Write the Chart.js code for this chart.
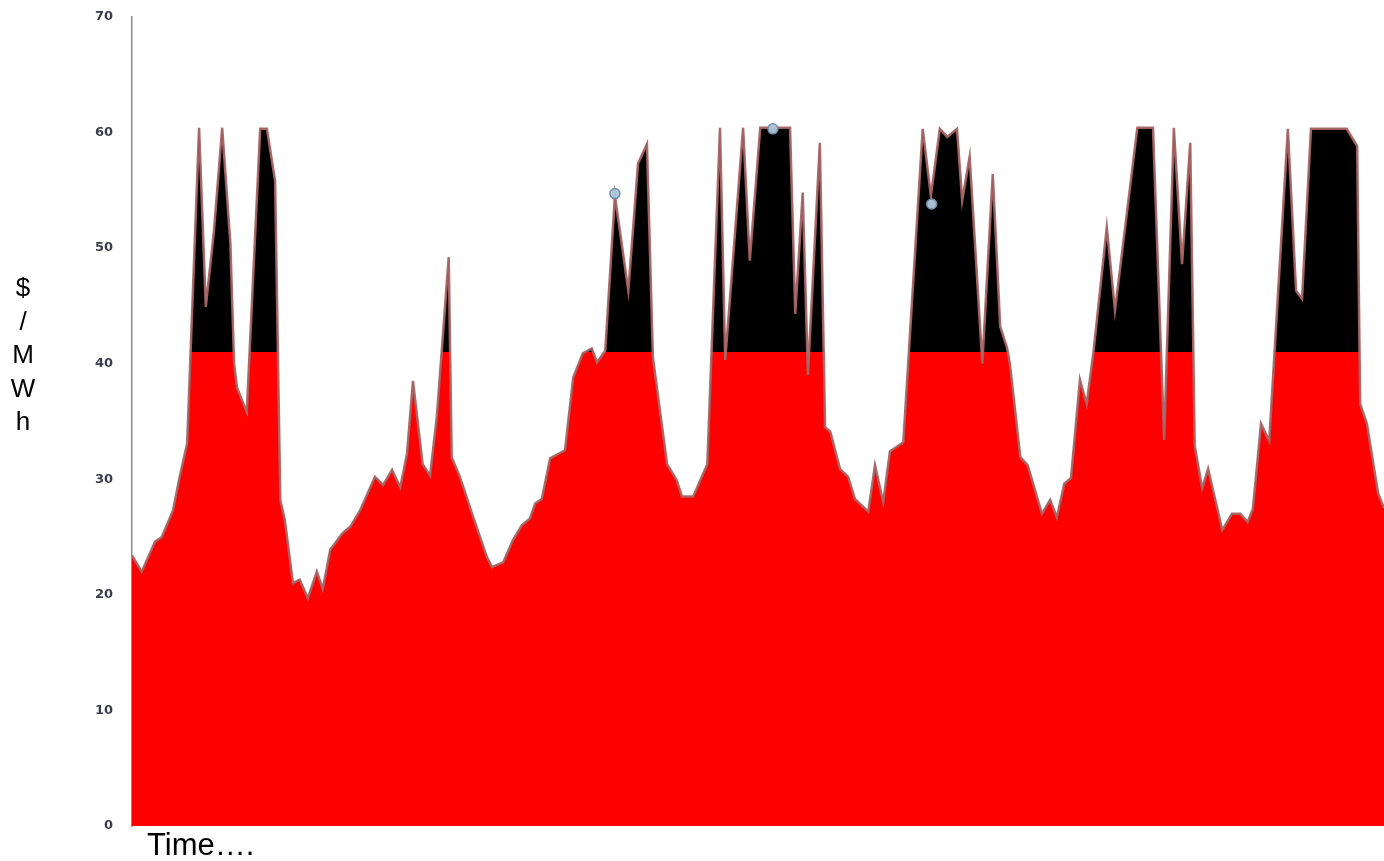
<!DOCTYPE html>
<html>
<head>
<meta charset="utf-8">
<script src="https://cdn.jsdelivr.net/npm/chart.js@4.4.1/dist/chart.umd.min.js"></script>
<style>
  html, body { margin: 0; padding: 0; background: #fff; }
  #wrap { position: relative; width: 1384px; height: 861px; overflow: hidden; }
  #c { position: absolute; left: 0; top: 0; }
  .ytitle { position: absolute; left: 8px; top: 271px; width: 30px; text-align: center;
            font-family: "Liberation Sans", Arial, sans-serif; font-size: 26px; line-height: 33.5px; color: #000; }
  .xtitle { position: absolute; left: 147px; top: 828px;
            font-family: "Liberation Sans", Arial, sans-serif; font-size: 31px; line-height: 34px; color: #000; }
</style>
</head>
<body>
<div id="wrap">
  <canvas id="c" width="1384" height="861"></canvas>
  <div class="ytitle">$<br>/<br>M<br>W<br>h</div>
  <div class="xtitle">Time….</div>
</div>
<script>
// Time in hours over one week
const hours = [
  0, 1.3, 3.1, 4.0, 5.5, 6.4, 7.4, 9.0, 9.9, 11.0, 12.1, 13.2, 13.7, 14.1, 15.4,
  17.2, 18.1, 19.2, 19.9, 20.5, 21.6, 22.5, 23.6, 24.8, 25.6, 26.6, 28.2, 29.3, 30.6,
  32.6, 33.7, 34.9, 36.0, 36.9, 37.7, 39.0, 40.0, 40.9, 42.5, 42.9, 44.0, 45.8, 47.6,
  48.3, 49.8, 51.1, 52.3, 53.4, 54.1, 55.0, 56.1, 58.1, 59.2, 60.5, 61.7, 62.4, 63.5,
  64.8, 66.6, 67.9, 69.1, 69.9, 71.8, 73.1, 73.8, 75.3, 77.2, 78.9, 79.6, 82.0, 82.9,
  84.3, 88.3, 89.0, 90.0, 90.7, 92.3, 93.0, 93.7, 95.0, 96.1, 97.0, 98.8, 99.7, 100.8,
  101.7, 103.5, 106.1, 107.2, 108.4, 109.4, 110.7, 111.4, 112.4, 114.1, 115.5, 116.5,
  117.4, 117.8, 119.2, 120.2, 122.1, 123.2, 124.1, 125.1, 126.0, 127.2, 128.1, 129.0,
  130.8, 131.9, 134.9, 137.0, 138.5, 139.8, 140.9, 142.0, 142.6, 143.6, 144.4, 146.3,
  147.6, 148.7, 149.7, 150.4, 151.5, 152.6, 155.1, 156.2, 157.0, 158.2, 163.0, 164.4,
  164.8, 165.7, 167.2, 168.0
];
// Price, $/MWh
const price = [
  23.4, 22.0, 24.6, 25.0, 27.3, 30.2, 33.1, 60.4, 44.9, 51.5, 60.4, 50.4, 40.0, 37.9, 35.8,
  60.3, 60.3, 55.8, 28.2, 26.5, 21.0, 21.3, 19.7, 22.0, 20.5, 23.9, 25.3, 25.9, 27.3,
  30.2, 29.5, 30.8, 29.3, 32.2, 38.5, 31.3, 30.3, 35.4, 49.2, 31.9, 30.2, 26.7, 23.3,
  22.4, 22.8, 24.7, 26.0, 26.6, 27.9, 28.3, 31.8, 32.5, 38.8, 40.9, 41.3, 40.1, 41.1,
  54.5, 46.3, 57.3, 59.0, 40.5, 31.3, 29.9, 28.5, 28.5, 31.3, 60.4, 40.3, 60.4, 48.9,
  60.4, 60.4, 44.3, 54.8, 39.0, 59.1, 34.5, 34.1, 30.9, 30.2, 28.3, 27.2, 31.2, 28.0,
  32.4, 33.2, 60.3, 54.5, 60.3, 59.6, 60.3, 54.1, 57.9, 40.0, 56.4, 43.2,
  41.4, 40.0, 31.9, 31.2, 27.0, 28.2, 26.7, 29.6, 30.1, 38.6, 36.5, 40.9,
  51.8, 44.6, 60.4, 60.4, 33.4, 60.4, 48.6, 59.1, 32.9, 29.2, 30.9, 25.6,
  27.0, 27.0, 26.3, 27.4, 34.8, 33.3, 60.3, 46.3, 45.6, 60.3, 60.3, 58.8,
  36.5, 34.8, 28.8, 27.5
];
// Highlighted (selected) points
const markHours = [64.8, 86.0, 107.3];
const markPrice = [54.7, 60.3, 53.8];
const threshold = 41;
const yTicks = [0, 10, 20, 30, 40, 50, 60, 70];

const series = hours.map((h, i) => ({ x: h, y: price[i] }));
const marks = markHours.map((h, i) => ({ x: h, y: markPrice[i] }));

new Chart(document.getElementById('c'), {
  type: 'line',
  data: {
    datasets: [
      {
        label: 'marks',
        data: marks,
        showLine: false,
        pointRadius: 5,
        pointBackgroundColor: 'rgba(175,198,218,0.95)',
        pointBorderColor: '#6f8ca8',
        pointBorderWidth: 1.5,
        order: 0
      },
      {
        label: 'price',
        data: series,
        borderColor: 'rgba(165,100,100,0.95)',
        borderWidth: 2.5,
        pointRadius: 0,
        tension: 0,
        fill: { target: { value: threshold }, above: '#000000', below: 'rgba(0,0,0,0)' },
        order: 1
      },
      {
        label: 'base',
        data: series,
        borderWidth: 0,
        borderColor: 'rgba(0,0,0,0)',
        backgroundColor: '#ff0000',
        pointRadius: 0,
        tension: 0,
        fill: 'origin',
        order: 2
      }
    ]
  },
  options: {
    responsive: false,
    animation: false,
    devicePixelRatio: 1,
    layout: { autoPadding: false, padding: { top: 16.73, bottom: 35, left: 0, right: 0 } },
    plugins: { legend: { display: false }, tooltip: { enabled: false } },
    scales: {
      x: { type: 'linear', min: 0, max: 168, display: false },
      y: {
        min: 0, max: 70,
        afterBuildTicks: (s) => { s.ticks = yTicks.map(v => ({ value: v })); },
        afterFit: (s) => { s.width = 132; s.paddingTop = 0; s.paddingBottom = 0; },
        grid: { display: false, drawTicks: false },
        border: { display: true, color: '#8c8c8c', width: 1.5 },
        ticks: {
          padding: 19,
          color: '#3c3c4c',
          font: { family: '"DejaVu Sans", sans-serif', size: 13, weight: 'bold' }
        }
      }
    }
  }
});
</script>
</body>
</html>
